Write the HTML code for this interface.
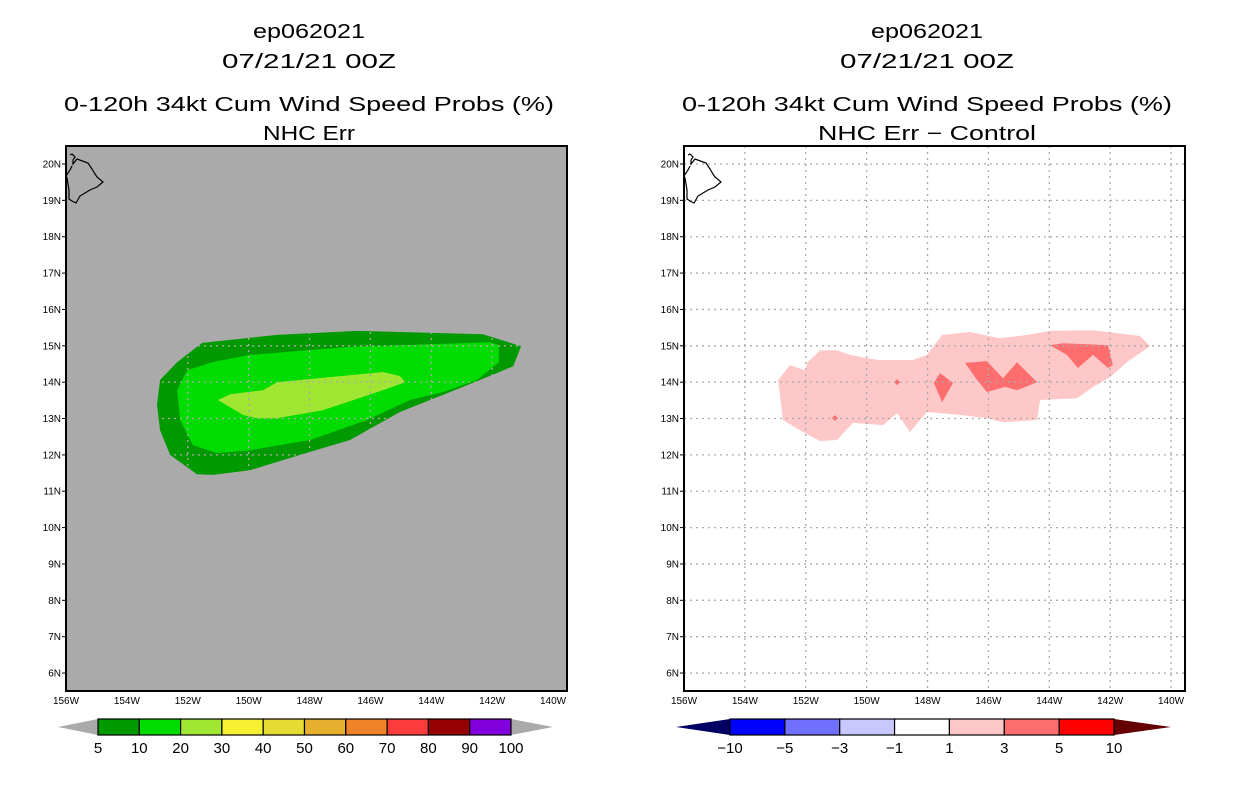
<!DOCTYPE html>
<html><head><meta charset="utf-8"><style>
body{margin:0;background:#fff;width:1236px;height:800px;overflow:hidden}
svg{display:block}
text{font-family:"Liberation Sans",sans-serif;fill:#000}
</style></head><body>
<svg id="root" width="1236" height="800" viewBox="0 0 1236 800" xmlns="http://www.w3.org/2000/svg"></svg>
<script>
// ---- data ----
const lonTicks = [156,154,152,150,148,146,144,142,140];
const latTicks = [20,19,18,17,16,15,14,13,12,11,10,9,8,7,6];
const leftLevels = ["5","10","20","30","40","50","60","70","80","90","100"];
const leftColors = ["#009900","#00dc00","#a0e632","#f5f032","#e6dc32","#e6af2d","#f08228","#fa3c3c","#960000","#8200dc"];
const rightLevels = ["−10","−5","−3","−1","1","3","5","10"];
const rightColors = ["#0000ff","#7070ff","#c8c8ff","#ffffff","#ffc8c8","#ff6e6e","#ff0000"];
// contours (lonW, lat)
const c5Lon = [151.53,149.07,146.44,142.30,141.05,141.31,142.40,143.38,145.03,146.67,148.31,149.96,151.17,151.70,152.58,152.91,153.01,152.91,152.35];
const c5Lat = [15.08,15.30,15.41,15.32,14.99,14.44,14.06,13.73,13.18,12.41,12.00,11.58,11.45,11.47,12.00,12.68,13.37,14.06,14.55];
const c10Lon = [151.20,149.96,146.67,142.07,141.78,141.78,142.50,143.61,144.70,146.11,147.98,149.96,151.04,151.83,152.25,152.35,152.02];
const c10Lat = [14.55,14.75,14.97,15.10,15.02,14.55,14.06,13.73,13.51,12.96,12.41,12.13,12.05,12.27,12.96,13.78,14.33];
const c20Lon = [151.01,150.61,149.53,149.07,145.59,145.03,144.86,145.59,147.56,149.07,149.73,150.19];
const c20Lat = [13.51,13.67,13.78,14.00,14.28,14.17,14.00,13.78,13.23,13.01,13.01,13.10];
const d1Lon = [152.91,152.52,152.02,151.96,151.53,150.97,150.55,149.63,148.48,148.02,147.52,146.60,145.62,144.73,143.98,142.56,141.02,140.69,141.45,142.00,142.56,143.09,144.30,144.40,145.52,146.05,146.93,148.02,148.58,149.00,149.46,150.45,150.97,151.53,152.19,152.75];
const d1Lat = [14.06,14.47,14.33,14.53,14.88,14.88,14.75,14.61,14.61,14.75,15.30,15.38,15.21,15.30,15.41,15.43,15.27,14.99,14.55,14.14,13.87,13.56,13.51,12.96,12.90,13.01,13.10,13.18,12.63,13.15,12.82,12.88,12.41,12.38,12.68,12.96];
const d3aLon = [147.59,147.16,147.52,147.79];
const d3aLat = [14.25,13.98,13.45,13.98];
const d3bLon = [146.77,146.05,145.52,145.06,144.40,145.06,145.45,146.05,146.37];
const d3bLat = [14.53,14.58,14.11,14.55,14.00,13.78,13.87,13.73,14.06];
const d3cLon = [143.98,143.55,142.07,141.91,142.07,142.56,143.06,143.42];
const d3cLat = [15.02,15.07,15.02,14.47,14.39,14.75,14.39,14.75];
const dotLon = [149.00,151.04];
const dotLat = [14.00,13.01];

const NS="http://www.w3.org/2000/svg";
const root=document.getElementById('root');
function mk(tag,attrs,parent){const e=document.createElementNS(NS,tag);for(const k in attrs)e.setAttribute(k,attrs[k]);(parent||root).appendChild(e);return e;}
function txt(s,x,y,size,anchor,parent){const t=mk('text',{x:x,y:y,'font-size':size,'text-anchor':anchor||'middle'},parent);t.textContent=s;return t;}

function panel(ox,bg,gridColor,titleLines,titleW,polys,cbar){
  const X0=66+ox,X1=567+ox,Y0=146,Y1=691;
  const xs=lw=>66+ox+(156-lw)*30.44;
  const ys=la=>164+(20-la)*36.36;
  const g=mk('g',{});
  
  
  const cx=309+ox;
  const ty=[38,68,111,140];
  titleLines.forEach((s,i)=>{const t=txt(s,cx,ty[i],20,'middle',g);
    t.setAttribute('textLength',titleW[i]);
    t.setAttribute('lengthAdjust','spacingAndGlyphs');
    
    });
  const bgR=mk('rect',{x:X0,y:Y0,width:X1-X0,height:Y1-Y0,fill:bg},g);
  
  
  const clip='clip'+ox;
  const cp=mk('clipPath',{id:clip},g);mk('rect',{x:X0,y:Y0,width:X1-X0,height:Y1-Y0},cp);
  const inner=mk('g',{'clip-path':'url(#'+clip+')'},g);
  polys.forEach(p=>{
    const pts=p.lon.map((l,i)=>xs(l).toFixed(1)+','+ys(p.lat[i]).toFixed(1)).join(' ');
    const e=mk('polygon',{points:pts,fill:p.color},inner);
    
    
  });
  if(ox){dotLon.forEach((l,i)=>{const x=xs(l),y=ys(dotLat[i]);
    const d=mk('polygon',{points:`${x-3},${y} ${x},${y-3} ${x+3},${y} ${x},${y+3}`,fill:'#ff6e6e'},inner);
    
    });}
  // grid
  lonTicks.forEach(l=>{const x=xs(l);mk('line',{x1:x,y1:Y0,x2:x,y2:Y1,stroke:gridColor,'stroke-width':1.3,'stroke-dasharray':'2,4'},inner);});
  latTicks.forEach(l=>{const y=ys(l);mk('line',{x1:X0,y1:y,x2:X1,y2:y,stroke:gridColor,'stroke-width':1.3,'stroke-dasharray':'2,4'},inner);});
  // island
  const isl=[[70,155],[72,154],[75,157],[73,160],[73,164],[77,159],[88,163],[92,169],[95,174],[97,177],[103,182],[97,187],[90,190],[85,193],[80,196],[76,203],[72,201],[69,199],[69,190],[67,178],[66,176],[70,170],[72,166]];
  const ip=mk('polyline',{points:isl.map(p=>(p[0]+ox)+','+p[1]).join(' '),fill:'none',stroke:'#000','stroke-width':1.2},inner);
  
  
  const fr=mk('rect',{x:X0,y:Y0,width:X1-X0,height:Y1-Y0,fill:'none',stroke:'#000','stroke-width':2},g);
  
  
  latTicks.forEach(l=>{const y=ys(l);mk('line',{x1:X0-4,y1:y,x2:X0,y2:y,stroke:'#000'},g);
    const t=txt(l+'N',X0-5,y+3.5,10,'end',g);
    
    });
  lonTicks.forEach(l=>{const x=xs(l);
    const t=txt(l+'W',x,704,10,'middle',g);
    
    });
  // colorbar
  const cb=mk('g',{},g);
  
  
  const n=cbar.colors.length, w=(cbar.x1-cbar.x0)/n, yT=719, yB=735, yM=727;
  mk('polygon',{points:`${cbar.tip0},${yM} ${cbar.x0},${yT} ${cbar.x0},${yB}`,fill:cbar.lowC},cb);
  mk('polygon',{points:`${cbar.tip1},${yM} ${cbar.x1},${yT} ${cbar.x1},${yB}`,fill:cbar.highC},cb);
  cbar.colors.forEach((c,i)=>{const r=mk('rect',{x:cbar.x0+i*w,y:yT,width:w,height:yB-yT,fill:c,stroke:'#000','stroke-width':1.2},cb);
    
    });
  cbar.labels.forEach((s,i)=>{const t=txt(s,cbar.x0+i*w,753,15,'middle',cb);
    
    });
}
panel(0,'#aaaaaa','#aaaaaa',['ep062021','07/21/21 00Z','0-120h 34kt Cum Wind Speed Probs (%)','NHC Err'],[112,174,490,92],
  [{lon:c5Lon,lat:c5Lat,color:'#009900',name:'contour-5'},{lon:c10Lon,lat:c10Lat,color:'#00dc00',name:'contour-10'},{lon:c20Lon,lat:c20Lat,color:'#a0e632',name:'contour-20'}],
  {x0:98,x1:511,tip0:58,tip1:553,colors:leftColors,labels:leftLevels,lowC:'#aaaaaa',highC:'#aaaaaa'});
panel(618,'#ffffff','#aaaaaa',['ep062021','07/21/21 00Z','0-120h 34kt Cum Wind Speed Probs (%)','NHC Err − Control'],[112,174,490,218],
  [{lon:d1Lon,lat:d1Lat,color:'#ffc8c8',name:'diff-1-3'},{lon:d3aLon,lat:d3aLat,color:'#ff6e6e',name:'diff-3-5-a'},{lon:d3bLon,lat:d3bLat,color:'#ff6e6e',name:'diff-3-5-b'},{lon:d3cLon,lat:d3cLat,color:'#ff6e6e',name:'diff-3-5-c'}],
  {x0:730,x1:1114,tip0:676,tip1:1171,colors:rightColors,labels:rightLevels,lowC:'#000064',highC:'#640000'});
</script>
</body></html>
